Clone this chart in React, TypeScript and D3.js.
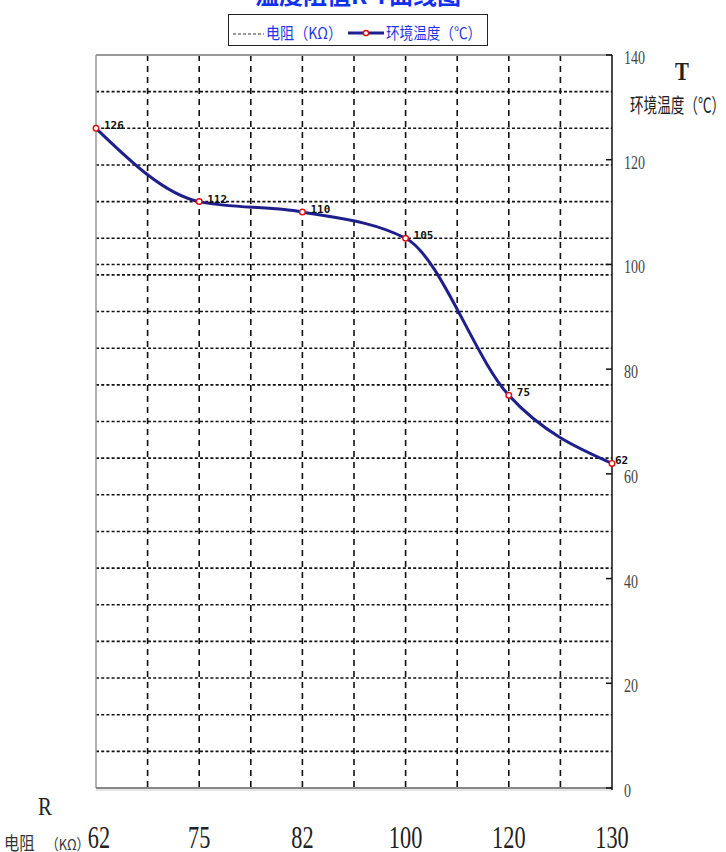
import React from "react";
import * as d3 from "d3";

const categories: string[] = ["62", "75", "82", "100", "120", "130"];
const temperatures: number[] = [126, 112, 110, 105, 75, 62];
const yTicks: number[] = [0, 20, 40, 60, 80, 100, 120, 140];
const extraGrid: number[] = [100];
const titleText = "温度阻值R-T曲线图";
const legendResistance = "电阻（KΩ）";
const legendTemperature = "环境温度（℃）";

const W = 726;
const H = 852;
const PL = 96;
const PR = 612;
const PT = 55;
const PB = 788;

const CJK = "'Noto Sans CJK SC', sans-serif";
const SERIF = "'Liberation Serif', 'DejaVu Serif', serif";
const NAVY = "#1e1e8c";
const BLUE = "#1f35e6";

function CText(props: {
  x: number; y: number; sx: number; size: number; fill: string;
  family: string; anchor?: string; weight?: string; children: React.ReactNode;
}) {
  const { x, y, sx, size, fill, family, anchor, weight, children } = props;
  return (
    <text
      transform={`translate(${x},${y}) scale(${sx},1)`}
      fontSize={size}
      fill={fill}
      fontFamily={family}
      textAnchor={anchor || "start"}
      fontWeight={weight || "normal"}
    >
      {children}
    </text>
  );
}

export default function App() {
  const x = d3.scaleLinear().domain([0, categories.length - 1]).range([PL, PR]);
  const y = d3.scaleLinear().domain([0, 140]).range([PB, PT]);

  const hGrid = [...d3.range(7, 140, 7), ...extraGrid];
  const vGrid = d3.range(0.5, categories.length - 1, 0.5);

  const line = d3
    .line<number>()
    .x((_, i) => x(i))
    .y((d) => y(d))
    .curve(d3.curveMonotoneX);

  return (
    <svg
      width={W}
      height={H}
      style={{ position: "absolute", left: 0, top: 0, display: "block", background: "#fff" }}
    >
      {/* title (cut at top, as in the reference) */}
      <text x={358} y={4} fontSize={24} fontWeight="bold" fill="#1030f0" fontFamily={CJK} textAnchor="middle">
        {titleText}
      </text>

      {/* legend */}
      <rect x={228.5} y={14.5} width={259} height={31} fill="#fff" stroke="#222" strokeWidth={1} />
      <line x1={233} x2={264} y1={34} y2={34} stroke="#333" strokeWidth={1.2} strokeDasharray="3,2" />
      <CText x={266} y={39} sx={0.88} size={16} fill={BLUE} family={CJK}>{legendResistance}</CText>
      <line x1={348} x2={384} y1={33} y2={33} stroke={NAVY} strokeWidth={3} />
      <circle cx={366} cy={33} r={2.6} fill="#fff" stroke="#e01010" strokeWidth={1.5} />
      <CText x={386} y={39} sx={0.85} size={16} fill={BLUE} family={CJK}>{legendTemperature}</CText>

      {/* plot frame */}
      <rect x={PL} y={PT} width={PR - PL} height={PB - PT} fill="#fff" />

      {/* horizontal grid */}
      {hGrid.map((v, i) => (
        <line key={"h" + i} x1={PL} x2={PR} y1={y(v)} y2={y(v)} stroke="#111" strokeWidth={1.6} strokeDasharray="3,2.2" />
      ))}
      {/* vertical grid */}
      {vGrid.map((v, i) => (
        <line key={"v" + i} x1={x(v)} x2={x(v)} y1={PT} y2={PB} stroke="#111" strokeWidth={1.6} strokeDasharray="6,5" />
      ))}

      {/* borders */}
      <line x1={PL} x2={PR} y1={PT} y2={PT} stroke="#999" strokeWidth={2} />
      <line x1={PL} x2={PL} y1={PT} y2={PB} stroke="#999" strokeWidth={1.5} />
      <line x1={PL} x2={PR} y1={PB} y2={PB} stroke="#888" strokeWidth={2} />
      <line x1={PL} x2={PR} y1={PB + 2} y2={PB + 2} stroke="#ccc" strokeWidth={1} />

      {/* right axis */}
      <line x1={PR} x2={PR} y1={PT} y2={PB + 2} stroke="#111" strokeWidth={1.5} />
      {yTicks.map((t) => (
        <g key={"t" + t}>
          <line x1={PR - 6} x2={PR} y1={y(t)} y2={y(t)} stroke="#111" strokeWidth={1.5} />
          <CText x={624} y={y(t) + 9} sx={0.78} size={18} fill="#444" family={SERIF}>{String(t)}</CText>
        </g>
      ))}

      {/* data line */}
      <path d={line(temperatures) || ""} fill="none" stroke={NAVY} strokeWidth={3} strokeLinejoin="round" />
      {temperatures.map((v, i) => (
        <g key={"p" + i}>
          <circle cx={x(i)} cy={y(v)} r={2.8} fill="#fff" stroke="#e01010" strokeWidth={1.4} />
          <text
            x={x(i) + (i === categories.length - 1 ? 3 : 8)}
            y={y(v) + 1}
            fontSize={11}
            fontWeight="bold"
            fill="#111"
            fontFamily="'DejaVu Sans Mono', monospace"
          >
            {String(v)}
          </text>
        </g>
      ))}

      {/* bottom category labels */}
      {categories.map((c, i) => (
        <CText key={"c" + i} x={x(i) + (i === 0 ? 3 : 0)} y={848} sx={0.72} size={31} fill="#222" family={SERIF} anchor="middle">
          {c}
        </CText>
      ))}

      {/* axis titles */}
      <CText x={38} y={815} sx={0.8} size={26} fill="#222" family={SERIF}>R</CText>
      <CText x={4} y={850} sx={0.85} size={18} fill="#333" family={CJK}>电阻</CText>
      <CText x={46} y={850} sx={0.85} size={15} fill="#333" family={CJK}>（KΩ）</CText>
      <CText x={675} y={80} sx={0.8} size={26} fill="#222" family={SERIF} weight="bold">T</CText>
      <CText x={630} y={113} sx={0.68} size={20} fill="#222" family={CJK}>{legendTemperature}</CText>
    </svg>
  );
}
